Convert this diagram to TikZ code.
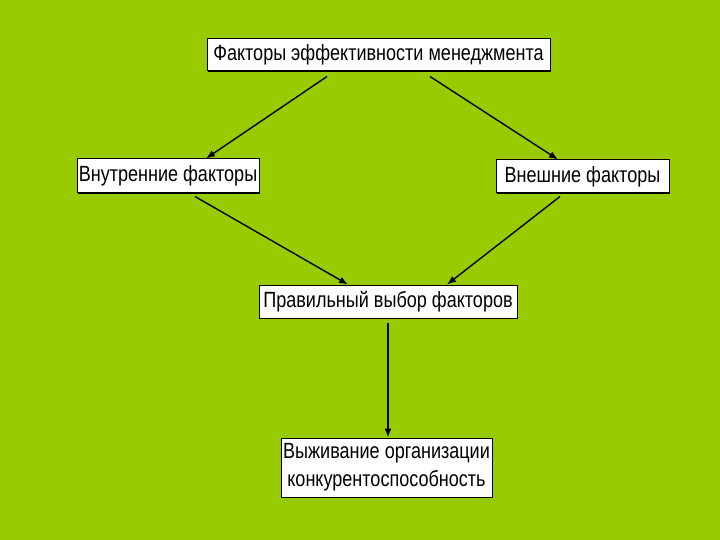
\documentclass[tikz,border=0pt]{standalone}
\usepackage{fontspec}
\setmainfont{Liberation Sans}
\newfontfamily\boxfont[FakeStretch=0.82]{Liberation Sans}
\usetikzlibrary{arrows.meta, shadows}
\definecolor{bgGreen}{RGB}{153,204,0}
\tikzset{factorBox/.style={shape=rectangle, draw=black, line width=1pt, fill=white, align=center,
  inner sep=0pt, font=\boxfont\fontsize{22}{28}\selectfont,
  drop shadow={shadow xshift=1.2pt, shadow yshift=-1.2pt, opacity=1, fill=black}}}
\tikzset{flowArrow/.style={line width=1.4pt, -{Latex[length=9pt,width=7pt]}}}

\begin{document}
\begin{tikzpicture}[x=1pt, y=-1pt]

\fill[bgGreen] (0,0) rectangle (720,540);
\useasboundingbox (0,0) rectangle (720,540);

% Boxes
\node[factorBox, minimum width=343pt, minimum height=32pt] (eff) at (378.5,55) {Факторы эффективности менеджмента};
\node[factorBox, minimum width=182pt, minimum height=34pt] (inner) at (168,176) {Внутренние факторы};
\node[factorBox, minimum width=173pt, minimum height=33pt] (outer) at (582.5,176.5) {Внешние факторы};
\node[factorBox, minimum width=258pt, minimum height=33pt] (choice) at (388,301.5) {Правильный выбор факторов};
\node[factorBox, minimum width=211pt, minimum height=59pt] (survive) at (386.5,467.5) {Выживание организации\\конкурентоспособность};

% Arrows
\draw[flowArrow] ([xshift=-51.5pt,yshift=-5pt]eff.south) -- ([xshift=38pt]inner.north);
\draw[flowArrow] ([xshift=51.5pt,yshift=-5pt]eff.south) -- ([xshift=-24.5pt]outer.north);
\draw[flowArrow] ([xshift=27pt,yshift=-3pt]inner.south) -- ([xshift=-40pt]choice.north);
\draw[flowArrow] ([xshift=-22.5pt,yshift=-3pt]outer.south) -- ([xshift=59pt]choice.north);
\draw[flowArrow] ([yshift=-4pt]choice.south) -- ([xshift=1.5pt]survive.north);

\end{tikzpicture}
\end{document}
